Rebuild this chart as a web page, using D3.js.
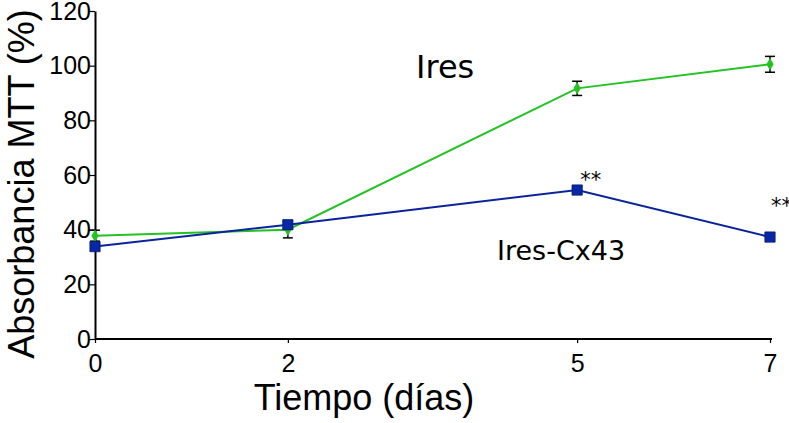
<!DOCTYPE html>
<html>
<head>
<meta charset="utf-8">
<script src="https://cdn.jsdelivr.net/npm/d3@7"></script>
<style>
  body { margin: 0; background: #fff; }
  svg { display: block; }
</style>
</head>
<body>
<div id="chart"></div>
<script>
// datos
const days = [0, 2, 5, 7];
const yTicks = [0, 20, 40, 60, 80, 100, 120];
const iresValues = [37.8, 40, 91.7, 100.5];
const iresErrors = [2, 3, 2.6, 2.9];
const cx43Values = [33.8, 41.8, 54.5, 37.3];
const cx43Errors = [1, 1.5, 1.2, 1];
const signif = [{ day: 5, value: 54.5, label: "**" }, { day: 7, value: 37.3, label: "**" }];

const width = 789;
const height = 423;
const margin = { top: 11, right: 19, bottom: 84, left: 95 };

const svg = d3.select("div#chart").append("svg")
  .attr("width", width)
  .attr("height", height);

const x = d3.scaleLinear().domain([0, 7]).range([margin.left, width - margin.right]);
const y = d3.scaleLinear().domain([0, 120]).range([height - margin.bottom, margin.top]);

const green = "#22c322";
const blue = "#0b239c";

// ejes
const xAxis = d3.axisBottom(x).tickValues(days).tickFormat(d3.format("d"))
  .tickSize(4).tickSizeOuter(0).tickPadding(10);
const yAxis = d3.axisLeft(y).tickValues(yTicks).tickSize(6).tickSizeOuter(0).tickPadding(-2);

const xAxisGroup = svg.append("g")
  .attr("transform", `translate(0, ${y(0)})`)
  .call(xAxis);
const yAxisGroup = svg.append("g")
  .attr("transform", `translate(${x(0)}, 0)`)
  .call(yAxis);

[xAxisGroup, yAxisGroup].forEach(g => {
  g.select(".domain").attr("stroke", "#000").attr("stroke-width", 2);
  g.selectAll(".tick line").attr("stroke", "#000").attr("stroke-width", 1.2);
  g.selectAll(".tick text")
    .attr("font-family", "'Liberation Sans Narrow', 'Liberation Sans', Arial, sans-serif")
    .attr("font-size", 25)
    .attr("fill", "#000");
});
xAxisGroup.selectAll(".tick text").attr("dy", "0.75em");
// la linea del eje x pasa un poco mas alla del 7
xAxisGroup.select(".domain").attr("d", `M${x(0)},0H${x(7) + 2}`);

// titulos
svg.append("text")
  .attr("x", 364)
  .attr("y", 410)
  .attr("text-anchor", "middle")
  .attr("font-family", "'Liberation Sans', Arial, sans-serif")
  .attr("font-size", 36)
  .text("Tiempo (días)");

svg.append("text")
  .attr("transform", "translate(34, 184) rotate(-90)")
  .attr("text-anchor", "middle")
  .attr("font-family", "'Liberation Sans', Arial, sans-serif")
  .attr("font-size", 36)
  .text("Absorbancia MTT (%)");

// series
const series = [
  { name: "Ires", values: iresValues, errors: iresErrors, color: green, symbol: d3.symbolDiamond, size: 45 },
  { name: "Ires-Cx43", values: cx43Values, errors: cx43Errors, color: blue, symbol: d3.symbolSquare, size: 105 },
];

const line = d3.line().x(d => x(d.day)).y(d => y(d.value));

series.forEach(s => {
  const pts = days.map((d, i) => ({ day: d, value: s.values[i], err: s.errors[i] }));
  const g = svg.append("g");

  g.append("path")
    .datum(pts)
    .attr("d", line)
    .attr("fill", "none")
    .attr("stroke", s.color)
    .attr("stroke-width", 2);

  const eb = g.selectAll("g.err").data(pts).enter().append("g").attr("class", "err");
  eb.append("line")
    .attr("x1", d => x(d.day)).attr("x2", d => x(d.day))
    .attr("y1", d => y(d.value + d.err)).attr("y2", d => y(d.value - d.err));
  eb.append("line")
    .attr("x1", d => x(d.day) - 5).attr("x2", d => x(d.day) + 5)
    .attr("y1", d => y(d.value + d.err)).attr("y2", d => y(d.value + d.err));
  eb.append("line")
    .attr("x1", d => x(d.day) - 5).attr("x2", d => x(d.day) + 5)
    .attr("y1", d => y(d.value - d.err)).attr("y2", d => y(d.value - d.err));
  eb.selectAll("line").attr("stroke", "#000").attr("stroke-width", 1.5);

  g.selectAll("path.mark").data(pts).enter().append("path")
    .attr("class", "mark")
    .attr("d", d3.symbol().type(s.symbol).size(s.size))
    .attr("transform", d => `translate(${x(d.day)}, ${y(d.value)})`)
    .attr("fill", s.symbol === d3.symbolSquare ? "#0628a6" : s.color)
    .attr("stroke", s.symbol === d3.symbolSquare ? "#0a1a6a" : "none")
    .attr("stroke-width", 0.8);
});

// etiquetas
svg.append("text")
  .attr("x", 416)
  .attr("y", 78)
  .attr("font-family", "'DejaVu Sans', Verdana, sans-serif")
  .attr("font-size", 32)
  .text("Ires");

svg.append("text")
  .attr("x", 497)
  .attr("y", 260)
  .attr("font-family", "'DejaVu Sans', Verdana, sans-serif")
  .attr("font-size", 27)
  .text("Ires-Cx43");

// asteriscos de significancia, encima de cada punto
svg.selectAll("text.sig").data(signif).enter().append("text")
  .attr("class", "sig")
  .attr("x", d => x(d.day) + (d.day === 7 ? 1 : 3))
  .attr("y", d => y(d.value) - (d.day === 7 ? 24 : 3))
  .attr("font-family", "'DejaVu Sans', Verdana, sans-serif")
  .attr("font-size", 21)
  .text(d => d.label);
</script>
</body>
</html>
